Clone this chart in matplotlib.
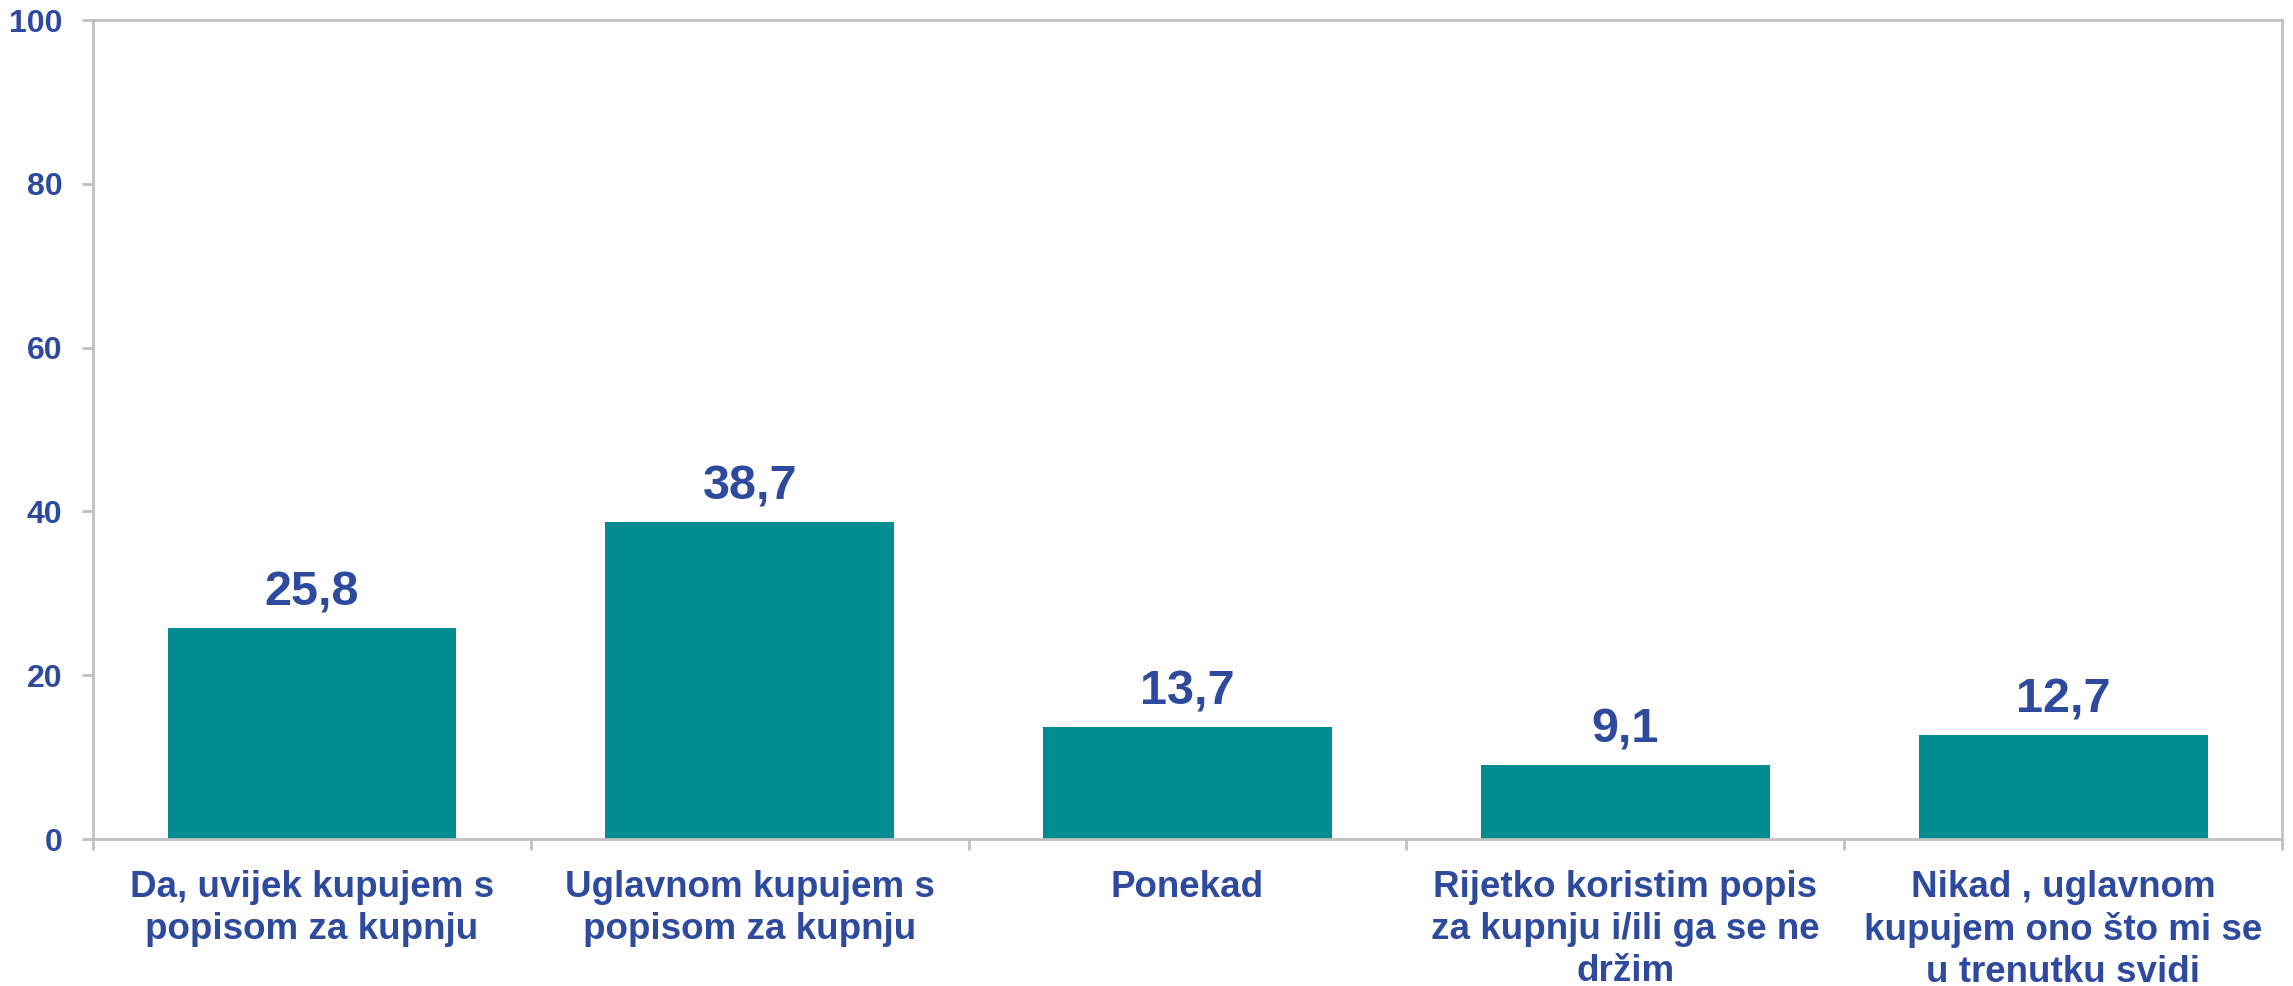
#!/usr/bin/env python3
"""Bar chart: korištenje popisa za kupnju (postotak ispitanika)."""

import matplotlib

matplotlib.use("Agg", force=True)
import matplotlib.pyplot as plt
import numpy as np

CATEGORIES = [
    "Da, uvijek kupujem s\npopisom za kupnju",
    "Uglavnom kupujem s\npopisom za kupnju",
    "Ponekad",
    "Rijetko koristim popis\nza kupnju i/ili ga se ne\ndržim",
    "Nikad , uglavnom\nkupujem ono što mi se\nu trenutku svidi",
]
VALUES = [25.8, 38.7, 13.7, 9.1, 12.7]
Y_TICKS = [0, 20, 40, 60, 80, 100]

BAR_COLOR = "#008C90"
TEXT_COLOR = "#2E4A9E"
AXIS_COLOR = "#C0C0C0"

plt.rcParams["font.family"] = ["Liberation Sans", "DejaVu Sans"]
plt.rcParams["font.weight"] = "bold"

fig = plt.figure(figsize=(22.93, 9.86), dpi=100)
ax = fig.add_axes([0.0406, 0.149, 0.9546, 0.8307])

x = np.arange(len(VALUES))
bars = ax.bar(x, VALUES, width=0.66, color=BAR_COLOR, zorder=2)

for bar, value in zip(bars, VALUES):
    ax.annotate(
        f"{value:.1f}".replace(".", ","),
        (bar.get_x() + bar.get_width() / 2, value),
        xytext=(0, 9),
        textcoords="offset points",
        ha="center",
        va="bottom",
        fontsize=35,
        fontweight="bold",
        color=TEXT_COLOR,
    )

ax.set_xlim(-0.5, len(VALUES) - 0.5)
ax.set_ylim(0, 100)
ax.set_yticks(Y_TICKS)
ax.set_yticklabels([str(t) for t in Y_TICKS])

# category labels centred, ticks at category boundaries
ax.set_xticks(x)
ax.set_xticklabels(CATEGORIES, fontsize=26.5, fontweight="bold", color=TEXT_COLOR,
                   linespacing=1.27)
ax.tick_params(axis="x", which="major", length=0, pad=22)
ax.set_xticks(np.arange(-0.5, len(VALUES)), minor=True)
ax.tick_params(axis="x", which="minor", length=8, width=2, color=AXIS_COLOR, direction="out")

ax.tick_params(axis="y", length=8, width=2, color=AXIS_COLOR, direction="out",
               pad=14, labelsize=23, labelcolor=TEXT_COLOR)
for label in ax.get_yticklabels():
    label.set_fontweight("bold")

for spine in ax.spines.values():
    spine.set_color(AXIS_COLOR)
    spine.set_linewidth(2)

fig.savefig("out.png", dpi=100)
plt.close(fig)
